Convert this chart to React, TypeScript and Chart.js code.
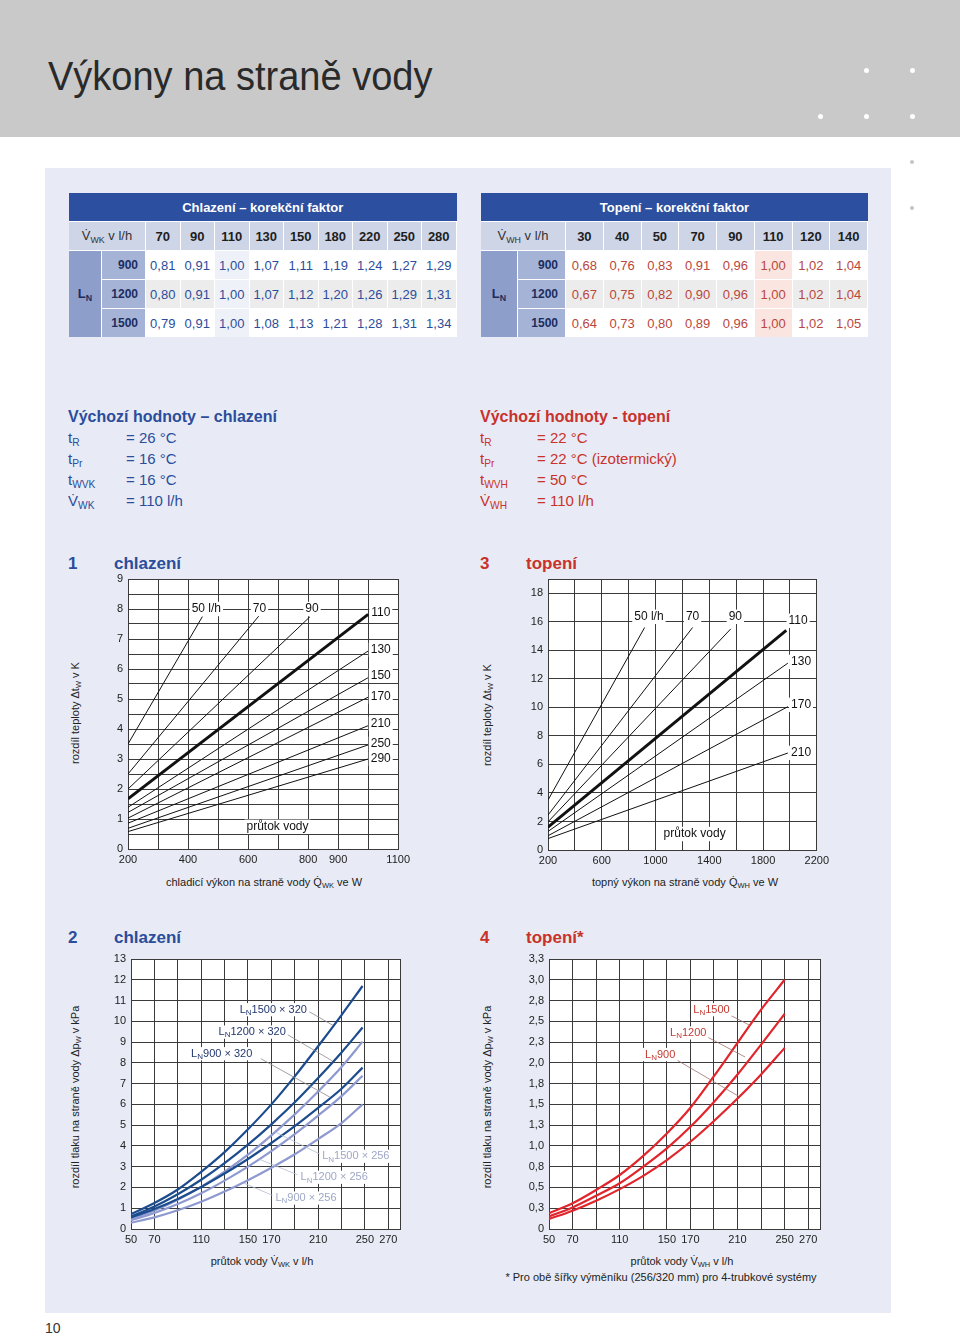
import React, { useEffect, useRef } from 'react';
import { Chart, registerables } from 'chart.js';
Chart.register(...registerables);

const FONT = '"Liberation Sans", Arial, Helvetica, sans-serif';
const BLUE = '#2b4d9b';
const RED = '#c8322b';
const NAVY = '#1b2d5e';

// ---------------- Table data ----------------
const coolFlows = ['70', '90', '110', '130', '150', '180', '220', '250', '280'];
const heatFlows = ['30', '40', '50', '70', '90', '110', '120', '140'];
const unitLengths = ['900', '1200', '1500'];
const coolFactors900 = ['0,81', '0,91', '1,00', '1,07', '1,11', '1,19', '1,24', '1,27', '1,29'];
const coolFactors1200 = ['0,80', '0,91', '1,00', '1,07', '1,12', '1,20', '1,26', '1,29', '1,31'];
const coolFactors1500 = ['0,79', '0,91', '1,00', '1,08', '1,13', '1,21', '1,28', '1,31', '1,34'];
const heatFactors900 = ['0,68', '0,76', '0,83', '0,91', '0,96', '1,00', '1,02', '1,04'];
const heatFactors1200 = ['0,67', '0,75', '0,82', '0,90', '0,96', '1,00', '1,02', '1,04'];
const heatFactors1500 = ['0,64', '0,73', '0,80', '0,89', '0,96', '1,00', '1,02', '1,05'];

// ---------------- Chart 1 (chlazení, ΔtW vs Q) ----------------
const c1FlowLabels = ['50 l/h', '70', '90', '110', '130', '150', '170', '210', '250', '290'];
const c1StartQ = [200, 200, 200, 200, 200, 200, 200, 200, 200, 200];
const c1StartDT = [3.5, 2.5, 2.0, 1.67, 1.39, 1.22, 1.03, 0.86, 0.69, 0.58];
const c1EndQ = [448, 637, 806, 1000, 1000, 1000, 1000, 1000, 1000, 1000];
const c1EndDT = [7.75, 7.78, 7.74, 7.82, 6.6, 5.71, 5.06, 4.11, 3.47, 3.0];
const c1LabelQ = [461, 638, 813, 1042, 1042, 1042, 1042, 1042, 1042, 1042];
const c1LabelDT = [8.0, 8.0, 8.0, 7.87, 6.64, 5.78, 5.08, 4.18, 3.51, 3.01];
const c1XTickLabels = [200, 400, 600, 800, 900, 1100];

// ---------------- Chart 3 (topení, ΔtW vs Q) ----------------
const c3FlowLabels = ['50 l/h', '70', '90', '110', '130', '170', '210'];
const c3StartQ = [200, 200, 200, 200, 200, 200, 200];
const c3StartDT = [3.5, 2.45, 1.97, 1.6, 1.3, 1.0, 0.8];
const c3EndQ = [919, 1276, 1560, 1973, 1985, 1985, 1985];
const c3EndDT = [15.6, 15.6, 15.5, 15.4, 13.1, 10.05, 6.8];
const c3LabelQ = [951, 1276, 1594, 2061, 2083, 2083, 2083];
const c3LabelDT = [16.35, 16.35, 16.35, 16.07, 13.19, 10.18, 6.81];
const c3XTickLabels = [200, 600, 1000, 1400, 1800, 2200];

// ---------------- Chart 2 (chlazení, Δp vs flow) ----------------
const c2Flow = [50, 70, 90, 110, 130, 150, 170, 190, 210, 230, 248];
const dp1500x320 = [0.72, 1.25, 1.9, 2.75, 3.7, 4.8, 6.0, 7.35, 8.8, 10.3, 11.7];
const dp1200x320 = [0.6, 1.08, 1.67, 2.37, 3.17, 4.06, 5.04, 6.1, 7.27, 8.5, 9.7];
const dp900x320 = [0.55, 0.96, 1.45, 2.02, 2.67, 3.37, 4.14, 4.95, 5.83, 6.75, 7.77];
const dp1500x256 = [0.48, 0.89, 1.41, 2.03, 2.76, 3.58, 4.51, 5.52, 6.62, 7.8, 9.02];
const dp1200x256 = [0.42, 0.77, 1.2, 1.72, 2.33, 3.0, 3.75, 4.57, 5.46, 6.4, 7.38];
const dp900x256 = [0.3, 0.56, 0.9, 1.31, 1.8, 2.35, 2.95, 3.6, 4.33, 5.1, 6.0];
const flowTickLabels = [50, 70, 110, 150, 170, 210, 250, 270];

// ---------------- Chart 4 (topení, Δp vs flow) ----------------
const c4Flow = [50, 70, 90, 110, 130, 150, 170, 190, 210, 230, 250];
const dpH1500 = [0.19, 0.31, 0.47, 0.65, 0.88, 1.15, 1.46, 1.84, 2.24, 2.64, 3.0];
const dpH1200 = [0.15, 0.26, 0.4, 0.55, 0.75, 0.97, 1.23, 1.53, 1.86, 2.22, 2.59];
const dpH900 = [0.12, 0.22, 0.34, 0.48, 0.64, 0.83, 1.05, 1.3, 1.57, 1.86, 2.18];
const c4YTickValues = [0, 0.25, 0.5, 0.75, 1, 1.25, 1.5, 1.75, 2, 2.25, 2.5, 2.75, 3, 3.25];
const c4YTickLabels = ['0', '0,3', '0,5', '0,8', '1,0', '1,3', '1,5', '1,8', '2,0', '2,3', '2,5', '2,8', '3,0', '3,3'];

// ---------------- helpers ----------------
function range(a: number, b: number, s: number) {
  const out: number[] = [];
  for (let v = a; v <= b + 1e-9; v += s) out.push(Math.round(v * 1000) / 1000);
  return out;
}

type Part = [string, boolean?];
interface Lbl { parts: Part[]; x: number; y: number; color: string; align?: 'left' | 'center'; bg?: boolean; size?: number }
interface Leader { x1: number; y1: number; x2: number; y2: number; color: string }

function annotPlugin(labels: Lbl[], leaders: Leader[]) {
  return {
    id: 'annot',
    beforeDraw(chart: any) {
      const { ctx, chartArea: a } = chart;
      ctx.save();
      ctx.fillStyle = '#ffffff';
      ctx.fillRect(a.left, a.top, a.right - a.left, a.bottom - a.top);
      ctx.restore();
    },
    afterDatasetsDraw(chart: any) {
      const ctx = chart.ctx;
      const xs = chart.scales.x, ys = chart.scales.y;
      ctx.save();
      for (const l of leaders) {
        ctx.strokeStyle = l.color;
        ctx.lineWidth = 0.8;
        ctx.beginPath();
        ctx.moveTo(xs.getPixelForValue(l.x1), ys.getPixelForValue(l.y1));
        ctx.lineTo(xs.getPixelForValue(l.x2), ys.getPixelForValue(l.y2));
        ctx.stroke();
      }
      for (const lb of labels) {
        const size = lb.size ?? 12;
        const sub = Math.round(size * 0.72);
        let w = 0;
        const widths = lb.parts.map(([t, s]) => {
          ctx.font = `${s ? sub : size}px ${FONT}`;
          const m = ctx.measureText(t).width;
          w += m;
          return m;
        });
        const px = xs.getPixelForValue(lb.x), py = ys.getPixelForValue(lb.y);
        let x0 = lb.align === 'center' ? px - w / 2 : px;
        if (lb.bg) {
          ctx.fillStyle = '#ffffff';
          ctx.fillRect(x0 - 2, py - size * 0.6, w + 4, size * 1.2);
        }
        ctx.textBaseline = 'middle';
        ctx.textAlign = 'left';
        lb.parts.forEach(([t, s], i) => {
          ctx.font = `${s ? sub : size}px ${FONT}`;
          ctx.fillStyle = lb.color;
          ctx.fillText(t, x0, s ? py + size * 0.28 : py);
          x0 += widths[i];
        });
      }
      ctx.restore();
    },
  };
}

const PL = 40, PR = 14, PT = 12, PB = 22;
const GRID = '#3a3a3a';

function axis(min: number, max: number, grid: number[], label: (v: number) => string, isX: boolean) {
  return {
    type: 'linear',
    min,
    max,
    afterBuildTicks: (s: any) => { s.ticks = grid.map((v) => ({ value: v })); },
    afterFit: (s: any) => { if (isX) s.height = PB; else s.width = PL; },
    ticks: {
      autoSkip: false,
      maxRotation: 0,
      minRotation: 0,
      padding: isX ? 4 : 5,
      color: '#222',
      font: { family: FONT, size: 11 },
      callback: (v: any) => label(Number(v)),
    },
    grid: { color: GRID, lineWidth: 1, drawTicks: false },
    border: { display: true, color: GRID, width: 1 },
  };
}

function makeConfig(datasets: any[], x: any, y: any, labels: Lbl[], leaders: Leader[]) {
  return {
    type: 'line',
    data: { datasets },
    options: {
      responsive: false,
      animation: false,
      events: [],
      devicePixelRatio: 1,
      layout: { padding: { top: PT, right: PR, left: 0, bottom: 0 } },
      plugins: { legend: { display: false }, tooltip: { enabled: false } },
      scales: { x, y },
    },
    plugins: [annotPlugin(labels, leaders)],
  };
}

interface Rect { l: number; t: number; r: number; b: number }

function ChartCanvas({ plot, build }: { plot: Rect; build: () => any }) {
  const ref = useRef<HTMLCanvasElement>(null);
  const w = plot.r - plot.l + PL + PR;
  const h = plot.b - plot.t + PT + PB;
  useEffect(() => {
    const chart = new Chart(ref.current as HTMLCanvasElement, build());
    return () => chart.destroy();
  }, []);
  return (
    <canvas
      ref={ref}
      width={w}
      height={h}
      style={{ position: 'absolute', left: plot.l - PL, top: plot.t - PT, width: w, height: h }}
    />
  );
}

// ---------------- chart builders ----------------
function buildChart1() {
  const ds = c1FlowLabels.map((_, i) => ({
    data: [{ x: c1StartQ[i], y: c1StartDT[i] }, { x: c1EndQ[i], y: c1EndDT[i] }],
    borderColor: '#111',
    borderWidth: i === 3 ? 3 : 1,
    pointRadius: 0,
    fill: false,
  }));
  const labels: Lbl[] = c1FlowLabels.map((t, i) => ({
    parts: [[t]], x: c1LabelQ[i], y: c1LabelDT[i], color: '#111', align: 'center', bg: true, size: 12,
  }));
  labels.push({ parts: [['průtok vody']], x: 698, y: 0.74, color: '#111', align: 'center', bg: true, size: 12 });
  return makeConfig(
    ds,
    axis(200, 1100, range(200, 1100, 100), (v) => (c1XTickLabels.includes(v) ? String(v) : ''), true),
    axis(0, 9, range(0, 9, 0.5), (v) => (Number.isInteger(v) ? String(v) : ''), false),
    labels,
    [],
  );
}

function buildChart3() {
  const ds = c3FlowLabels.map((_, i) => ({
    data: [{ x: c3StartQ[i], y: c3StartDT[i] }, { x: c3EndQ[i], y: c3EndDT[i] }],
    borderColor: '#111',
    borderWidth: i === 3 ? 3 : 1,
    pointRadius: 0,
    fill: false,
  }));
  const labels: Lbl[] = c3FlowLabels.map((t, i) => ({
    parts: [[t]], x: c3LabelQ[i], y: c3LabelDT[i], color: '#111', align: 'center', bg: true, size: 12,
  }));
  labels.push({ parts: [['průtok vody']], x: 1291, y: 1.12, color: '#111', align: 'center', bg: true, size: 12 });
  return makeConfig(
    ds,
    axis(200, 2200, range(200, 2200, 200), (v) => (c3XTickLabels.includes(v) ? String(v) : ''), true),
    axis(0, 19, [...range(0, 18, 2), 19], (v) => (v <= 18 ? String(v) : ''), false),
    labels,
    [],
  );
}

const DARK = '#1c4c8e';
const LIGHT = '#8e99cf';

function curve(xs: number[], ys: number[], color: string) {
  return {
    data: xs.map((x, i) => ({ x, y: ys[i] })),
    borderColor: color,
    borderWidth: 2.2,
    pointRadius: 0,
    fill: false,
    cubicInterpolationMode: 'monotone',
  };
}

function buildChart2() {
  const ds = [
    curve(c2Flow, dp1500x320, DARK),
    curve(c2Flow, dp1200x320, DARK),
    curve(c2Flow, dp900x320, DARK),
    curve(c2Flow, dp1500x256, LIGHT),
    curve(c2Flow, dp1200x256, LIGHT),
    curve(c2Flow, dp900x256, LIGHT),
  ];
  const dl = '#23376e', ll = '#9ea7c6';
  const labels: Lbl[] = [
    { parts: [['L'], ['N', true], ['1500 × 320']], x: 142.9, y: 10.56, color: dl, size: 11, bg: true },
    { parts: [['L'], ['N', true], ['1200 × 320']], x: 124.9, y: 9.48, color: dl, size: 11, bg: true },
    { parts: [['L'], ['N', true], ['900 × 320']], x: 101.4, y: 8.44, color: dl, size: 11, bg: true },
    { parts: [['L'], ['N', true], ['1500 × 256']], x: 213.5, y: 3.5, color: ll, size: 11, bg: true },
    { parts: [['L'], ['N', true], ['1200 × 256']], x: 195, y: 2.49, color: ll, size: 11, bg: true },
    { parts: [['L'], ['N', true], ['900 × 256']], x: 173.5, y: 1.49, color: ll, size: 11, bg: true },
  ];
  const lc = '#8a8a8a';
  const lc2 = '#b5bbd2';
  const leaders: Leader[] = [
    { x1: 202.5, y1: 10.46, x2: 222.8, y2: 9.8, color: lc },
    { x1: 181, y1: 9.45, x2: 222, y2: 8.1, color: lc },
    { x1: 161, y1: 8.2, x2: 220, y2: 6.35, color: lc },
    { x1: 211.4, y1: 3.61, x2: 172.9, y2: 4.68, color: lc2 },
    { x1: 192.5, y1: 2.61, x2: 160, y2: 3.35, color: lc2 },
    { x1: 171, y1: 1.62, x2: 146, y2: 2.22, color: lc2 },
  ];
  return makeConfig(
    ds,
    axis(50, 280, [...range(50, 270, 20), 280], (v) => (flowTickLabels.includes(v) ? String(v) : ''), true),
    axis(0, 13, range(0, 13, 1), (v) => String(v), false),
    labels,
    leaders,
  );
}

function buildChart4() {
  const R = '#e1252c';
  const ds = [curve(c4Flow, dpH1500, R), curve(c4Flow, dpH1200, R), curve(c4Flow, dpH900, R)];
  const lr = '#c23a32';
  const labels: Lbl[] = [
    { parts: [['L'], ['N', true], ['1500']], x: 172.5, y: 2.64, color: lr, size: 11, bg: true },
    { parts: [['L'], ['N', true], ['1200']], x: 152.7, y: 2.36, color: lr, size: 11, bg: true },
    { parts: [['L'], ['N', true], ['900']], x: 131.5, y: 2.1, color: lr, size: 11, bg: true },
  ];
  const lc = '#a07070';
  const leaders: Leader[] = [
    { x1: 203, y1: 2.58, x2: 220.6, y2: 2.45, color: lc },
    { x1: 184.5, y1: 2.31, x2: 216.4, y2: 2.07, color: lc },
    { x1: 159, y1: 2.03, x2: 210.7, y2: 1.6, color: lc },
  ];
  return makeConfig(
    ds,
    axis(50, 280, [...range(50, 270, 20), 280], (v) => (flowTickLabels.includes(v) ? String(v) : ''), true),
    axis(0, 3.25, c4YTickValues, (v) => {
      const i = c4YTickValues.indexOf(v);
      return i >= 0 ? c4YTickLabels[i] : '';
    }, false),
    labels,
    leaders,
  );
}

// ---------------- HTML helpers ----------------
const Sub = ({ children }: { children: React.ReactNode }) => (
  <span style={{ fontSize: '0.68em', verticalAlign: '-0.3em' }}>{children}</span>
);

function T({ x, y, size = 13, color = '#222', bold = false, center = false, children, style }: any) {
  return (
    <div
      style={{
        position: 'absolute',
        left: x,
        top: y - size * 0.6,
        fontSize: size,
        lineHeight: `${size * 1.2}px`,
        color,
        fontWeight: bold ? 700 : 400,
        fontFamily: FONT,
        whiteSpace: 'nowrap',
        transform: center ? 'translateX(-50%)' : undefined,
        ...style,
      }}
    >
      {children}
    </div>
  );
}

function VT({ x, y, size = 11, children }: any) {
  return (
    <div
      style={{
        position: 'absolute',
        left: x,
        top: y,
        fontSize: size,
        lineHeight: `${size * 1.2}px`,
        color: '#222',
        fontFamily: FONT,
        whiteSpace: 'nowrap',
        transform: 'translate(-50%, -50%) rotate(-90deg)',
      }}
    >
      {children}
    </div>
  );
}

function Cell({ x, y, w, h, bg, color = '#222', bold = false, size = 13, right = false, children }: any) {
  return (
    <div
      style={{
        position: 'absolute',
        left: x,
        top: y,
        width: w,
        height: h,
        background: bg,
        color,
        fontWeight: bold ? 700 : 400,
        fontSize: size,
        fontFamily: FONT,
        display: 'flex',
        alignItems: 'center',
        justifyContent: right ? 'flex-end' : 'center',
        paddingRight: right ? 7 : 0,
        boxSizing: 'border-box',
        whiteSpace: 'nowrap',
      }}
    >
      {children}
    </div>
  );
}

function FactorTable({ x, title, flows, rows, labelSub, lnW, numW, pitch, valueColor, hiCol, hiColor }: any) {
  const rowY = [222, 251, 280, 309];
  const rowH = 28;
  const labelW = lnW + 1 + numW;
  const valX0 = x + labelW + 1;
  const totalW = labelW + 1 + pitch * flows.length;
  const headBg = '#cdd5e7';
  const cells: any[] = [];
  flows.forEach((f: string, j: number) => {
    cells.push(
      <Cell key={'h' + j} x={valX0 + j * pitch} y={rowY[0]} w={pitch - 1} h={rowH} bg={headBg} bold color="#1e1e1e">{f}</Cell>,
    );
  });
  rows.forEach((vals: string[], i: number) => {
    const base = i === 1 ? '#ececec' : '#ffffff';
    vals.forEach((v, j) => {
      cells.push(
        <Cell key={`c${i}-${j}`} x={valX0 + j * pitch} y={rowY[i + 1]} w={pitch - 1} h={rowH} bg={j === hiCol ? hiColor : base} color={valueColor}>{v}</Cell>,
      );
    });
    cells.push(
      <Cell key={'n' + i} x={x + lnW + 1} y={rowY[i + 1]} w={numW} h={rowH} bg="#a5b3d7" bold size={12} right color={NAVY}>{unitLengths[i]}</Cell>,
    );
  });
  return (
    <>
      <div style={{ position: 'absolute', left: x, top: 221, width: totalW, height: 116, background: '#ffffff' }} />
      <Cell x={x} y={193} w={totalW} h={28} bg="#2c4f9f" color="#fff" bold size={13}>{title}</Cell>
      <Cell x={x} y={rowY[0]} w={labelW} h={rowH} bg={headBg} color="#333" size={13}>
        <span>V{'\u0307'}<Sub>{labelSub}</Sub> v l/h</span>
      </Cell>
      <Cell x={x} y={rowY[1]} w={lnW} h={rowH * 3 + 2} bg="#8e9ecb" bold color={NAVY} size={13}>
        <span>L<Sub>N</Sub></span>
      </Cell>
      {cells}
    </>
  );
}

export default function App() {
  const dots = [[866, 70], [912, 70], [820, 116], [866, 116], [912, 116]];
  return (
    <div style={{ position: 'absolute', left: 0, top: 0, width: 960, height: 1335, background: '#fff', overflow: 'hidden', fontFamily: FONT }}>
      {/* header band */}
      <div style={{ position: 'absolute', left: 0, top: 0, width: 960, height: 137, background: '#c9c9c9' }} />
      <div
        style={{
          position: 'absolute', left: 48, top: 52, fontSize: 40, lineHeight: '48px', color: '#2a2a2a',
          fontFamily: FONT, whiteSpace: 'nowrap', transform: 'scaleX(0.95)', transformOrigin: 'left center',
        }}
      >
        Výkony na straně vody
      </div>
      {dots.map(([x, y], i) => (
        <div key={i} style={{ position: 'absolute', left: x - 2.5, top: y - 2.5, width: 5, height: 5, borderRadius: '50%', background: '#fff' }} />
      ))}
      {[[912, 162], [912, 208]].map(([x, y], i) => (
        <div key={'g' + i} style={{ position: 'absolute', left: x - 2, top: y - 2, width: 4, height: 4, borderRadius: '50%', background: '#c4c4c4' }} />
      ))}

      {/* panel */}
      <div style={{ position: 'absolute', left: 45, top: 168, width: 846, height: 1145, background: '#e8ebf5' }} />

      {/* tables */}
      <FactorTable
        x={69} title="Chlazení – korekční faktor" flows={coolFlows}
        rows={[coolFactors900, coolFactors1200, coolFactors1500]} labelSub="WK"
        lnW={32} numW={43} pitch={34.5} valueColor={BLUE} hiCol={2} hiColor="#eef1f8"
      />
      <FactorTable
        x={481} title="Topení – korekční faktor" flows={heatFlows}
        rows={[heatFactors900, heatFactors1200, heatFactors1500]} labelSub="WH"
        lnW={36} numW={47} pitch={37.75} valueColor="#b8473d" hiCol={5} hiColor="#fbe5e1"
      />

      {/* default values */}
      <T x={68} y={417} size={16} bold color={BLUE}>Výchozí hodnoty – chlazení</T>
      <T x={68} y={438} size={15} color={BLUE}>t<Sub>R</Sub></T>
      <T x={126} y={438} size={15} color={BLUE}>= 26 °C</T>
      <T x={68} y={459} size={15} color={BLUE}>t<Sub>Pr</Sub></T>
      <T x={126} y={459} size={15} color={BLUE}>= 16 °C</T>
      <T x={68} y={480} size={15} color={BLUE}>t<Sub>WVK</Sub></T>
      <T x={126} y={480} size={15} color={BLUE}>= 16 °C</T>
      <T x={68} y={501} size={15} color={BLUE}>V{'\u0307'}<Sub>WK</Sub></T>
      <T x={126} y={501} size={15} color={BLUE}>= 110 l/h</T>

      <T x={480} y={417} size={16} bold color={RED}>Výchozí hodnoty - topení</T>
      <T x={480} y={438} size={15} color={RED}>t<Sub>R</Sub></T>
      <T x={537} y={438} size={15} color={RED}>= 22 °C</T>
      <T x={480} y={459} size={15} color={RED}>t<Sub>Pr</Sub></T>
      <T x={537} y={459} size={15} color={RED}>= 22 °C (izotermický)</T>
      <T x={480} y={480} size={15} color={RED}>t<Sub>WVH</Sub></T>
      <T x={537} y={480} size={15} color={RED}>= 50 °C</T>
      <T x={480} y={501} size={15} color={RED}>V{'\u0307'}<Sub>WH</Sub></T>
      <T x={537} y={501} size={15} color={RED}>= 110 l/h</T>

      {/* chart titles */}
      <T x={68} y={564} size={17} bold color={BLUE}>1</T>
      <T x={114} y={564} size={17} bold color={BLUE}>chlazení</T>
      <T x={480} y={564} size={17} bold color={RED}>3</T>
      <T x={526} y={564} size={17} bold color={RED}>topení</T>
      <T x={68} y={938} size={17} bold color={BLUE}>2</T>
      <T x={114} y={938} size={17} bold color={BLUE}>chlazení</T>
      <T x={480} y={938} size={17} bold color={RED}>4</T>
      <T x={526} y={938} size={17} bold color={RED}>topení*</T>

      {/* charts */}
      <ChartCanvas plot={{ l: 128, t: 579, r: 400, b: 849 }} build={buildChart1} />
      <ChartCanvas plot={{ l: 548, t: 579, r: 819, b: 850 }} build={buildChart3} />
      <ChartCanvas plot={{ l: 131, t: 959, r: 400, b: 1229 }} build={buildChart2} />
      <ChartCanvas plot={{ l: 549, t: 959, r: 820, b: 1229 }} build={buildChart4} />

      {/* axis titles */}
      <VT x={77} y={713}>rozdíl teploty Δt<Sub>W</Sub> v K</VT>
      <VT x={489} y={715}>rozdíl teploty Δt<Sub>W</Sub> v K</VT>
      <VT x={77} y={1097}>rozdíl tlaku na straně vody Δp<Sub>W</Sub> v kPa</VT>
      <VT x={489} y={1097}>rozdíl tlaku na straně vody Δp<Sub>W</Sub> v kPa</VT>
      <T x={264} y={883} size={11} center>chladicí výkon na straně vody Q{'\u0307'}<Sub>WK</Sub> ve W</T>
      <T x={685} y={883} size={11} center>topný výkon na straně vody Q{'\u0307'}<Sub>WH</Sub> ve W</T>
      <T x={262} y={1262} size={11} center>průtok vody V{'\u0307'}<Sub>WK</Sub> v l/h</T>
      <T x={682} y={1262} size={11} center>průtok vody V{'\u0307'}<Sub>WH</Sub> v l/h</T>
      <T x={661} y={1278} size={11} center>* Pro obě šířky výměníku (256/320 mm) pro 4-trubkové systémy</T>

      <T x={45} y={1328} size={14} color="#333">10</T>
    </div>
  );
}
